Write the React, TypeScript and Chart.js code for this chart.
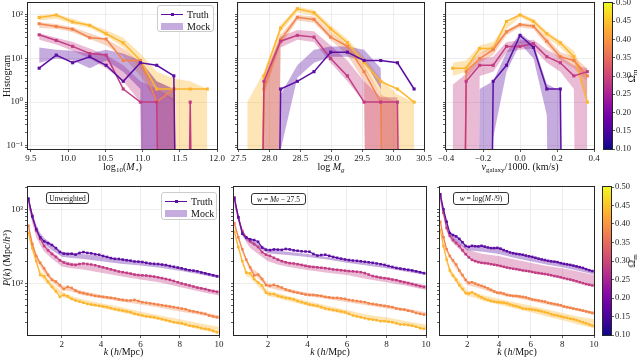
import React, { useEffect, useRef } from "react";
import { Chart, registerables } from "chart.js";
Chart.register(...registerables);

// ================= DATA =================
// Four cosmologies (plasma colour at Omega_m): A≈0.17 (purple), B≈0.29 (magenta), C≈0.39 (orange), D≈0.44 (yellow)

// --- Top-left: stellar-mass histogram ---
const mstarBins = [9.61, 9.84, 10.06, 10.29, 10.51, 10.74, 10.97, 11.19, 11.42, 11.64, 11.87];
const mstarTruthA = [6, 12, 8, 11, 7, 3, 8, 7, 4, 0, 0];
const mstarTruthB = [35, 26, 19, 13, 12, 2, 1, 1, 0, 1, 0];
const mstarTruthC = [63, 54, 47, 30, 28, 9, 9, 1, 2, 0, 0];
const mstarTruthD = [87, 100, 69, 58, 37, 23, 9, 2, 2, 2, 2];
const mstarMockHiA = [18, 16, 15, 13, 16, 13, 9, 3, 2, 0, 0];
const mstarMockLoA = [8, 10, 9, 6, 9, 5, 2, 0, 0, 0, 0];
const mstarMockHiB = [38, 30, 24, 17, 12, 7, 3, 2, 1.2, 0, 0];
const mstarMockLoB = [27, 21, 15, 10, 6, 3, 1, 0, 0, 0, 0];
const mstarMockHiC = [68, 62, 52, 38, 28, 17, 8, 3, 2, 0, 0];
const mstarMockLoC = [50, 48, 40, 28, 20, 11, 4, 1, 0, 0, 0];
const mstarMockHiD = [100, 105, 82, 62, 45, 30, 13, 5, 3.5, 3, 2];
const mstarMockLoD = [75, 82, 62, 50, 33, 18, 6, 2, 1, 0, 0];

// --- Top-middle: log M_g histogram ---
const mgBins = [27.64, 27.91, 28.18, 28.45, 28.72, 28.99, 29.26, 29.53, 29.8, 30.07, 30.34];
const mgTruthA = [0, 0, 2, 3, 5, 14, 14, 9, 9, 8, 2];
const mgTruthB = [0, 3, 25, 34, 31, 10, 4, 1, 1, 1, 0];
const mgTruthC = [0, 2, 27, 88, 79, 31, 19, 5, 1, 0, 0];
const mgTruthD = [0, 4, 50, 139, 113, 48, 23, 8, 3, 2, 1];
const mgMockHiA = [0, 0, 1.5, 7, 16, 19, 19, 16, 6, 0, 0];
const mgMockLoA = [0, 0, 0.08, 3.6, 8, 11, 11, 9, 2, 0, 0];
const mgMockHiB = [0, 4, 32, 45, 42, 20, 9, 3, 1.3, 1.3, 0];
const mgMockLoB = [0, 0, 18, 27, 24, 8, 3, 1, 0, 0, 0];
const mgMockHiC = [0, 3, 35, 100, 92, 40, 20, 7, 1.5, 1, 0];
const mgMockLoC = [0, 1.5, 20, 75, 66, 27, 12, 3, 0, 0, 0];
const mgMockHiD = [1, 5, 60, 155, 130, 58, 28, 11, 3.5, 1.5, 1];
const mgMockLoD = [0, 0, 40, 115, 95, 40, 18, 6, 1.5, 0, 0];

// --- Top-right: galaxy velocity histogram ---
const velBins = [-0.364, -0.291, -0.218, -0.145, -0.073, 0, 0.073, 0.145, 0.218, 0.291, 0.364];
const velTruthA = [0, 0, 0, 3, 7, 34, 18, 2, 2, 0, 0];
const velTruthB = [0, 3, 7, 7, 19, 19, 22, 11, 8, 4, 5];
const velTruthC = [0, 5, 10, 16, 41, 60, 55, 25, 11, 9, 4];
const velTruthD = [6, 6, 17, 17, 71, 100, 71, 37, 23, 11, 1];
const velMockHiA = [0, 0, 2, 3, 14, 38, 22, 2.6, 1.8, 0, 0];
const velMockLoA = [0, 0, 0, 0.15, 5, 22, 10, 0.5, 0, 0, 0];
const velMockHiB = [2.5, 4.5, 10, 11, 24, 26, 27, 16, 11, 7, 6];
const velMockLoB = [0, 0, 4, 5, 14, 16, 17, 8, 5, 2, 0];
const velMockHiC = [0, 7, 13, 20, 46, 66, 62, 30, 14, 11, 6];
const velMockLoC = [0, 3.5, 8, 12, 34, 52, 47, 20, 9, 6, 3];
const velMockHiD = [8, 9, 20, 24, 62, 110, 82, 42, 26, 15, 3];
const velMockLoD = [4, 5, 13, 16, 48, 88, 62, 30, 18, 9, 1.2];

// --- Bottom: power spectra ---
const kTruth = [0.3, 0.5, 0.7, 0.9, 1.1, 1.3, 1.5, 1.7, 1.9, 2.1, 2.3, 2.5, 2.7, 2.9, 3.1, 3.3, 3.5, 3.7, 3.9, 4.1, 4.3, 4.5, 4.7, 4.9, 5.1, 5.3, 5.5, 5.7, 5.9, 6.1, 6.3, 6.5, 6.7, 6.9, 7.1, 7.3, 7.5, 7.7, 7.9, 8.1, 8.3, 8.5, 8.7, 8.9, 9.1, 9.3, 9.5, 9.7, 9.9];
const kMock = [0.3, 0.5, 0.7, 0.9, 1.1, 1.5, 2, 2.5, 3, 4, 5, 6, 7, 8, 9, 10];

// Unweighted
const pkUnwTruthA = [1400, 800, 540, 420, 370, 350, 330, 300, 265, 252, 250, 252, 245, 258, 265, 258, 255, 248, 244, 235, 228, 220, 215, 214, 210, 206, 203, 198, 197, 195, 190, 186, 184, 183, 180, 177, 172, 168, 164, 160, 155, 151, 149, 146, 141, 137, 133, 129, 125];
const pkUnwTruthB = [1350, 820, 520, 400, 320, 280, 250, 228, 205, 192, 184, 180, 178, 183, 186, 183, 180, 176, 170, 165, 160, 155, 150, 145, 142, 139, 136, 132, 130, 129, 128, 126, 124, 121, 118, 115, 112, 108, 104, 100, 97, 94, 91, 88, 86, 84, 81, 79, 77];
const pkUnwTruthC = [600, 340, 235, 190, 160, 130, 112, 106, 95, 84, 90, 87, 80, 76, 74, 72, 70, 68, 67, 66, 65, 64, 63, 61, 60, 59, 59, 60, 58, 56, 55, 54, 53, 52, 51, 50, 49, 48, 47, 46, 45, 43, 42, 41, 40, 39, 37, 36, 35];
const pkUnwTruthD = [480, 300, 200, 130, 125, 105, 90, 78, 66, 70, 67, 62, 59, 57, 55, 53, 52, 51, 50, 49, 48, 46.5, 45, 44, 43, 42, 41, 39, 38, 37, 36, 35.5, 35, 34, 33, 32, 31, 30, 29.5, 29, 28, 27, 26.5, 26, 25, 24.5, 24, 23, 22];
const pkUnwMockHiA = [1500, 900, 620, 480, 410, 340, 270, 255, 250, 235, 212, 195, 180, 162, 145, 130];
const pkUnwMockLoA = [1100, 700, 500, 400, 340, 280, 230, 220, 215, 200, 185, 175, 163, 148, 133, 118];
const pkUnwMockHiB = [1450, 900, 560, 430, 340, 270, 205, 190, 185, 165, 145, 132, 120, 105, 90, 80];
const pkUnwMockLoB = [1100, 650, 420, 330, 270, 215, 170, 160, 155, 140, 125, 113, 103, 90, 78, 69];
const pkUnwMockHiC = [650, 380, 250, 200, 170, 120, 95, 88, 80, 70, 63, 58, 52, 47, 42, 37];
const pkUnwMockLoC = [520, 300, 210, 170, 140, 105, 82, 78, 70, 63, 57, 52, 47, 42, 38, 33];
const pkUnwMockHiD = [520, 320, 220, 150, 135, 100, 78, 68, 62, 54, 48, 42, 37, 33, 29, 26];
const pkUnwMockLoD = [420, 260, 180, 125, 110, 85, 66, 60, 54, 47, 41, 36, 32, 28, 24, 21];

// w = M_g - 27.5
const pkMgTruthA = [1400, 780, 470, 415, 395, 385, 365, 305, 285, 282, 288, 286, 284, 292, 288, 280, 276, 272, 270, 268, 250, 238, 242, 244, 236, 228, 222, 216, 211, 207, 204, 202, 199, 196, 193, 190, 186, 182, 178, 172, 167, 162, 159, 156, 153, 150, 146, 142, 138];
const pkMgTruthB = [1450, 780, 510, 420, 370, 340, 310, 265, 245, 236, 222, 210, 200, 193, 188, 186, 182, 178, 173, 169, 167, 165, 163, 161, 158, 155, 153, 151, 149, 147, 146, 144, 142, 138, 132, 126, 123, 120, 118, 116, 113, 111, 107, 104, 101, 98, 95, 92, 90];
const pkMgTruthC = [650, 420, 290, 210, 165, 128, 132, 115, 95, 93, 96, 92, 88, 83, 80, 77, 75, 73, 71, 70, 70, 69, 68, 66, 65, 64, 64, 63, 62, 60, 59, 58, 57, 56, 54, 53, 52, 51, 50, 49, 48, 46, 45, 44.5, 43, 42, 40, 39, 38];
const pkMgTruthD = [500, 310, 200, 140, 137, 115, 103, 94, 75, 72, 72, 68, 66, 64, 63, 61, 58, 56, 54, 52, 51, 50, 48, 46, 45, 44, 43, 42, 41, 39, 37, 36, 35, 34, 33, 32.5, 32, 31, 31, 30.5, 30, 29, 28, 28, 27.5, 27, 26, 25, 24.5];
const pkMgMockHiA = [1500, 850, 520, 430, 400, 350, 290, 275, 268, 250, 228, 205, 188, 172, 155, 140];
const pkMgMockLoA = [1150, 700, 440, 380, 350, 300, 255, 248, 242, 228, 210, 190, 175, 160, 144, 130];
const pkMgMockHiB = [1450, 850, 540, 430, 360, 300, 240, 215, 195, 178, 162, 150, 133, 120, 108, 95];
const pkMgMockLoB = [1100, 680, 450, 360, 300, 250, 200, 180, 168, 152, 140, 130, 115, 104, 93, 82];
const pkMgMockHiC = [700, 450, 300, 220, 170, 140, 100, 92, 85, 75, 68, 62, 56, 51, 46, 41];
const pkMgMockLoC = [560, 380, 260, 190, 145, 118, 88, 82, 76, 68, 62, 56, 51, 46, 42, 37];
const pkMgMockHiD = [530, 340, 215, 150, 140, 108, 80, 74, 68, 58, 50, 44, 38, 35, 31, 28];
const pkMgMockLoD = [440, 280, 180, 125, 120, 92, 68, 63, 58, 50, 43, 38, 33, 30, 27, 24];

// w = log(M*/9)
const pkMsTruthA = [1600, 1000, 680, 480, 450, 432, 400, 360, 320, 312, 322, 318, 316, 322, 314, 306, 300, 300, 302, 295, 282, 272, 262, 256, 251, 248, 244, 238, 233, 228, 222, 216, 211, 207, 202, 199, 197, 194, 188, 184, 181, 178, 174, 170, 166, 162, 156, 151, 147];
const pkMsTruthB = [1500, 900, 560, 440, 385, 352, 320, 280, 248, 225, 208, 200, 194, 190, 188, 186, 182, 179, 176, 172, 168, 164, 161, 158, 156, 153, 150, 148, 146, 143, 140, 138, 136, 134, 132, 129, 126, 124, 121, 118, 115, 113, 110, 107, 104, 101, 98, 96, 94];
const pkMsTruthC = [680, 420, 290, 235, 205, 180, 150, 130, 112, 102, 104, 100, 96, 93, 90, 86, 82, 78, 75, 75, 73, 70, 69, 68, 68, 67, 66, 65, 63, 61, 60, 59, 58, 57, 55, 54, 53, 52, 51, 49, 48, 47, 46, 45, 44, 43, 42, 41, 40];
const pkMsTruthD = [530, 320, 210, 150, 128, 112, 95, 84, 74, 73, 76, 72, 68, 65, 62, 60, 58, 57, 56, 55.5, 55, 54, 52, 50.5, 49.5, 48, 46, 45.5, 45, 44.5, 44, 43, 42, 41, 40, 38.5, 37.5, 37, 36, 35, 34.5, 33.5, 33, 32, 31, 30, 29, 28, 27];
const pkMsMockHiA = [1650, 1050, 700, 500, 460, 400, 320, 320, 312, 298, 252, 230, 205, 188, 168, 150];
const pkMsMockLoA = [1300, 850, 600, 430, 400, 340, 280, 275, 268, 250, 220, 200, 180, 165, 148, 132];
const pkMsMockHiB = [1500, 950, 600, 470, 420, 350, 290, 265, 250, 235, 210, 190, 172, 160, 145, 130];
const pkMsMockLoB = [1200, 780, 500, 400, 350, 290, 230, 200, 188, 172, 155, 143, 130, 118, 105, 93];
const pkMsMockHiC = [700, 440, 300, 240, 210, 155, 108, 100, 92, 78, 70, 63, 57, 51, 46, 42];
const pkMsMockLoC = [600, 380, 265, 215, 185, 135, 95, 90, 83, 70, 64, 58, 52, 47, 43, 38];
const pkMsMockHiD = [560, 340, 225, 165, 140, 108, 80, 75, 70, 62, 56, 50, 45, 40, 36, 33];
const pkMsMockLoD = [460, 290, 190, 135, 118, 88, 68, 64, 58, 52, 46, 41, 36, 32, 28, 25];

// --- Ticks ---
const mstarTicks = [9.5, 10, 10.5, 11, 11.5, 12];
const mstarTickLabels = ["9.5", "10.0", "10.5", "11.0", "11.5", "12.0"];
const mgTicks = [27.5, 28, 28.5, 29, 29.5, 30, 30.5];
const mgTickLabels = ["27.5", "28.0", "28.5", "29.0", "29.5", "30.0", "30.5"];
const velTicks = [-0.4, -0.2, 0, 0.2, 0.4];
const velTickLabels = ["\u22120.4", "\u22120.2", "0.0", "0.2", "0.4"];
const histYTicks = [0.1, 1, 10, 100];
const histYLabels = ["10\u207B\u00B9", "10\u2070", "10\u00B9", "10\u00B2"];
const kTicks = [2, 4, 6, 8, 10];
const kTickLabels = ["2", "4", "6", "8", "10"];
const pkYTicks = [100, 1000];
const pkYLabels = ["10\u00B2", "10\u00B3"];
const cbTicks = [0.1, 0.15, 0.2, 0.25, 0.3, 0.35, 0.4, 0.45, 0.5];
const cbTickLabels = ["0.10", "0.15", "0.20", "0.25", "0.30", "0.35", "0.40", "0.45", "0.50"];

// ================= STYLE =================
const SERIF = "'Liberation Serif', 'DejaVu Serif', 'Times New Roman', serif";
const TICK_FONT = { family: SERIF, size: 9 };
const GRID = "#e8e8e8";
const COL_A = "#5c0fa2";
const COL_B = "#c23c84";
const COL_C = "#f2844b";
const COL_D = "#fdb52e";
const PLASMA = ["#0d0887", "#41049d", "#6a00a8", "#8f0da4", "#b12a90", "#cc4778", "#e16462", "#f2844b", "#fca636", "#fcce25", "#f0f921"];
const FLOOR = 1e-30;

function alpha(hex: string, a: number) {
  const n = parseInt(hex.slice(1), 16);
  return `rgba(${(n >> 16) & 255},${(n >> 8) & 255},${n & 255},${a})`;
}
const pts = (xs: number[], ys: number[]) => xs.map((x, i) => ({ x, y: ys[i] > 0 ? ys[i] : FLOOR }));

function truthDs(xs: number[], ys: number[], color: string, r: number, lw: number) {
  return {
    data: pts(xs, ys), borderColor: color, backgroundColor: color, pointBackgroundColor: color,
    borderWidth: lw, pointRadius: r, pointHoverRadius: r, pointStyle: "rect", pointBorderWidth: 0,
    fill: false, tension: 0, order: 0,
  };
}
function bandDs(xs: number[], lo: number[], hi: number[], color: string, order: number) {
  return [
    { data: pts(xs, hi), borderColor: "rgba(0,0,0,0)", borderWidth: 0, pointRadius: 0, fill: "+1", backgroundColor: alpha(color, 0.35), tension: 0, order },
    { data: pts(xs, lo), borderColor: "rgba(0,0,0,0)", borderWidth: 0, pointRadius: 0, fill: false, backgroundColor: "rgba(0,0,0,0)", tension: 0, order },
  ];
}

function logTicks(min: number, max: number) {
  const out: any[] = [];
  for (let e = -3; e <= 4; e++) {
    for (let m = 1; m <= 9; m++) {
      const v = m * Math.pow(10, e);
      if (v >= min * 0.9999 && v <= max * 1.0001) out.push({ value: v, major: m === 1 });
    }
  }
  return out;
}
function majorLabel(v: number, majors: number[], labels: string[]) {
  for (let i = 0; i < majors.length; i++) if (Math.abs(v - majors[i]) / majors[i] < 1e-6) return labels[i];
  return "";
}

const framePlugin = {
  id: "frame",
  afterDatasetsDraw(chart: any) {
    const { ctx, chartArea: a } = chart;
    ctx.save();
    ctx.strokeStyle = "#262626";
    ctx.lineWidth = 1;
    ctx.strokeRect(Math.round(a.left) - 0.5, Math.round(a.top) - 0.5, Math.round(a.right - a.left) + 1, Math.round(a.bottom - a.top) + 1);
    ctx.restore();
  },
};
const colorbarPlugin = {
  id: "cbar",
  beforeDatasetsDraw(chart: any) {
    const { ctx, chartArea: a } = chart;
    const g = ctx.createLinearGradient(0, a.bottom, 0, a.top);
    PLASMA.forEach((c, i) => g.addColorStop(i / (PLASMA.length - 1), c));
    ctx.save();
    ctx.fillStyle = g;
    ctx.fillRect(a.left, a.top, a.right - a.left, a.bottom - a.top);
    ctx.restore();
  },
};

type Box = { x0: number; y0: number; x1: number; y1: number; pl: number; pt: number; pr: number; pb: number };

function panelConfig(p: any) {
  const box: Box = p.box;
  return {
    type: "line",
    data: { datasets: p.datasets },
    options: {
      responsive: false, animation: false, devicePixelRatio: 1, events: [],
      layout: { padding: { left: 0, top: box.pt, right: box.pr, bottom: 0 } },
      plugins: { legend: { display: false }, tooltip: { enabled: false } },
      scales: {
        x: {
          type: "linear", min: p.xMin, max: p.xMax, bounds: "data",
          afterBuildTicks: (s: any) => { s.ticks = p.xTicks.map((v: number) => ({ value: v })); },
          afterFit: (s: any) => { s.height = box.pb; s.paddingLeft = 0; s.paddingRight = 0; },
          ticks: { autoSkip: false, maxRotation: 0, minRotation: 0, padding: 1, font: TICK_FONT, color: "#222", callback: (_v: any, i: number) => p.xLabels[i] },
          grid: { color: GRID, lineWidth: 0.8, tickLength: 3, tickColor: "#333", tickWidth: 0.8 },
          border: { display: false },
        },
        y: {
          type: "logarithmic", min: p.yMin, max: p.yMax, bounds: "data",
          afterBuildTicks: (s: any) => { s.ticks = logTicks(p.yMin, p.yMax); },
          afterFit: (s: any) => { s.width = box.pl; s.paddingTop = 0; s.paddingBottom = 0; },
          ticks: { autoSkip: false, padding: 2, font: TICK_FONT, color: "#222", callback: (v: number) => (p.showY ? majorLabel(v, p.yMajors, p.yLabels) : "") },
          grid: {
            color: (c: any) => (c.tick && c.tick.major ? GRID : "rgba(0,0,0,0)"),
            lineWidth: 0.8, tickLength: 3, tickColor: "#333", tickWidth: 0.8,
          },
          border: { display: false },
        },
      },
    },
    plugins: [framePlugin],
  };
}

function colorbarConfig(box: Box) {
  return {
    type: "line",
    data: { datasets: [] },
    options: {
      responsive: false, animation: false, devicePixelRatio: 1, events: [],
      layout: { padding: { left: box.pl, top: box.pt, right: 0, bottom: box.pb } },
      plugins: { legend: { display: false }, tooltip: { enabled: false } },
      scales: {
        x: { type: "linear", display: false, min: 0, max: 1 },
        y: {
          type: "linear", position: "right", min: 0.1, max: 0.5, bounds: "data",
          afterBuildTicks: (s: any) => { s.ticks = cbTicks.map((v) => ({ value: v })); },
          afterFit: (s: any) => { s.width = box.pr; s.paddingTop = 0; s.paddingBottom = 0; },
          ticks: { autoSkip: false, padding: 1, font: { family: SERIF, size: 8.5 }, color: "#222", callback: (_v: any, i: number) => cbTickLabels[i] },
          grid: { drawOnChartArea: false, tickLength: 3, tickColor: "#333", tickWidth: 0.8 },
          border: { display: false },
        },
      },
    },
    plugins: [colorbarPlugin, framePlugin],
  };
}

function ChartBox({ box, build }: { box: Box; build: () => any }) {
  const ref = useRef<HTMLCanvasElement | null>(null);
  useEffect(() => {
    const chart = new Chart(ref.current as HTMLCanvasElement, build() as any);
    return () => chart.destroy();
  }, []);
  const w = box.x1 - box.x0 + box.pl + box.pr;
  const h = box.y1 - box.y0 + box.pt + box.pb;
  return (
    <div style={{ position: "absolute", left: box.x0 - box.pl, top: box.y0 - box.pt, width: w, height: h }}>
      <canvas ref={ref} width={w} height={h} style={{ display: "block", width: w, height: h }} />
    </div>
  );
}

function histDatasets(xs: number[], t: number[][], lo: number[][], hi: number[][]) {
  const cols = [COL_A, COL_B, COL_C, COL_D];
  const ds: any[] = [];
  for (let i = 0; i < 4; i++) ds.push(truthDs(xs, t[i], cols[i], 2.2, 1.5));
  for (let i = 0; i < 4; i++) ds.push(...bandDs(xs, lo[i], hi[i], cols[i], 10 + i));
  return ds;
}
function pkDatasets(t: number[][], lo: number[][], hi: number[][]) {
  const cols = [COL_A, COL_B, COL_C, COL_D];
  const ds: any[] = [];
  for (let i = 0; i < 4; i++) ds.push(truthDs(kTruth, t[i], cols[i], 1.8, 1.2));
  for (let i = 0; i < 4; i++) ds.push(...bandDs(kMock, lo[i], hi[i], cols[i], 10 + i));
  return ds;
}

const HIST_YMIN = 0.084;
const HIST_YMAX = 188;
const PK_YMIN = 20.2;
const PK_YMAX = 2000;

const boxP1: Box = { x0: 28, y0: 3, x1: 217, y1: 149, pl: 28, pt: 3, pr: 10, pb: 20 };
const boxP2: Box = { x0: 238, y0: 3, x1: 424, y1: 149, pl: 8, pt: 3, pr: 10, pb: 20 };
const boxP3: Box = { x0: 446, y0: 3, x1: 594, y1: 149, pl: 8, pt: 3, pr: 8, pb: 20 };
const boxCB1: Box = { x0: 604, y0: 3, x1: 612, y1: 149, pl: 2, pt: 3, pr: 27, pb: 6 };
const boxP4: Box = { x0: 28, y0: 187, x1: 219, y1: 335, pl: 28, pt: 4, pr: 8, pb: 22 };
const boxP5: Box = { x0: 234, y0: 187, x1: 426, y1: 335, pl: 8, pt: 4, pr: 8, pb: 22 };
const boxP6: Box = { x0: 440, y0: 187, x1: 594, y1: 335, pl: 8, pt: 4, pr: 8, pb: 22 };
const boxCB2: Box = { x0: 603, y0: 187, x1: 611, y1: 335, pl: 2, pt: 4, pr: 27, pb: 6 };

function Txt({ x, y, rot = 0, size = 10, children }: any) {
  return (
    <div style={{ position: "absolute", left: x, top: y, transform: `translate(-50%,-50%) rotate(${rot}deg)`, fontSize: size, whiteSpace: "nowrap", lineHeight: 1, color: "#111", fontFamily: SERIF }}>
      {children}
    </div>
  );
}
const Sub = ({ children }: any) => <sub style={{ fontSize: "0.7em", verticalAlign: "-0.3em", lineHeight: 0 }}>{children}</sub>;
const Sup = ({ children }: any) => <sup style={{ fontSize: "0.7em", verticalAlign: "0.45em", lineHeight: 0 }}>{children}</sup>;

function Legend({ x, y, w, h }: any) {
  return (
    <div style={{ position: "absolute", left: x, top: y, width: w, height: h, boxSizing: "border-box", border: "1px solid #cccccc", borderRadius: 3, background: "rgba(255,255,255,0.85)", fontFamily: SERIF }}>
      <div style={{ position: "absolute", left: 3, top: 7.5, width: 22, height: 1.5, background: COL_A }} />
      <div style={{ position: "absolute", left: 12.5, top: 6.8, width: 3, height: 3, background: COL_A }} />
      <div style={{ position: "absolute", left: 29, top: 3, fontSize: 10, lineHeight: "12px", color: "#111" }}>Truth</div>
      <div style={{ position: "absolute", left: 3, top: 17, width: 22, height: 7, background: alpha(COL_A, 0.35) }} />
      <div style={{ position: "absolute", left: 29, top: 15, fontSize: 10, lineHeight: "12px", color: "#111" }}>Mock</div>
    </div>
  );
}
function TagBox({ x, y, w, h, children }: any) {
  return (
    <div style={{ position: "absolute", left: x, top: y, width: w, height: h, boxSizing: "border-box", border: "1px solid #333", borderRadius: 3, background: "#fff", display: "flex", alignItems: "center", justifyContent: "center", fontSize: 7.5, fontFamily: SERIF, whiteSpace: "nowrap", color: "#111" }}>
      {children}
    </div>
  );
}

export default function App() {
  return (
    <div style={{ position: "absolute", left: 0, top: 0, width: 640, height: 359, background: "#fff", overflow: "hidden" }}>
      <ChartBox box={boxP1} build={() => panelConfig({
        box: boxP1, xMin: 9.46, xMax: 12.0, xTicks: mstarTicks, xLabels: mstarTickLabels,
        yMin: HIST_YMIN, yMax: HIST_YMAX, yMajors: histYTicks, yLabels: histYLabels, showY: true,
        datasets: histDatasets(mstarBins, [mstarTruthA, mstarTruthB, mstarTruthC, mstarTruthD], [mstarMockLoA, mstarMockLoB, mstarMockLoC, mstarMockLoD], [mstarMockHiA, mstarMockHiB, mstarMockHiC, mstarMockHiD]),
      })} />
      <ChartBox box={boxP2} build={() => panelConfig({
        box: boxP2, xMin: 27.49, xMax: 30.5, xTicks: mgTicks, xLabels: mgTickLabels,
        yMin: HIST_YMIN, yMax: HIST_YMAX, yMajors: histYTicks, yLabels: histYLabels, showY: false,
        datasets: histDatasets(mgBins, [mgTruthA, mgTruthB, mgTruthC, mgTruthD], [mgMockLoA, mgMockLoB, mgMockLoC, mgMockLoD], [mgMockHiA, mgMockHiB, mgMockHiC, mgMockHiD]),
      })} />
      <ChartBox box={boxP3} build={() => panelConfig({
        box: boxP3, xMin: -0.4, xMax: 0.4, xTicks: velTicks, xLabels: velTickLabels,
        yMin: HIST_YMIN, yMax: HIST_YMAX, yMajors: histYTicks, yLabels: histYLabels, showY: false,
        datasets: histDatasets(velBins, [velTruthA, velTruthB, velTruthC, velTruthD], [velMockLoA, velMockLoB, velMockLoC, velMockLoD], [velMockHiA, velMockHiB, velMockHiC, velMockHiD]),
      })} />
      <ChartBox box={boxCB1} build={() => colorbarConfig(boxCB1)} />

      <ChartBox box={boxP4} build={() => panelConfig({
        box: boxP4, xMin: 0.28, xMax: 10, xTicks: kTicks, xLabels: kTickLabels,
        yMin: PK_YMIN, yMax: PK_YMAX, yMajors: pkYTicks, yLabels: pkYLabels, showY: true,
        datasets: pkDatasets([pkUnwTruthA, pkUnwTruthB, pkUnwTruthC, pkUnwTruthD], [pkUnwMockLoA, pkUnwMockLoB, pkUnwMockLoC, pkUnwMockLoD], [pkUnwMockHiA, pkUnwMockHiB, pkUnwMockHiC, pkUnwMockHiD]),
      })} />
      <ChartBox box={boxP5} build={() => panelConfig({
        box: boxP5, xMin: 0.28, xMax: 10, xTicks: kTicks, xLabels: kTickLabels,
        yMin: PK_YMIN, yMax: PK_YMAX, yMajors: pkYTicks, yLabels: pkYLabels, showY: false,
        datasets: pkDatasets([pkMgTruthA, pkMgTruthB, pkMgTruthC, pkMgTruthD], [pkMgMockLoA, pkMgMockLoB, pkMgMockLoC, pkMgMockLoD], [pkMgMockHiA, pkMgMockHiB, pkMgMockHiC, pkMgMockHiD]),
      })} />
      <ChartBox box={boxP6} build={() => panelConfig({
        box: boxP6, xMin: 0.28, xMax: 10, xTicks: kTicks, xLabels: kTickLabels,
        yMin: PK_YMIN, yMax: PK_YMAX, yMajors: pkYTicks, yLabels: pkYLabels, showY: false,
        datasets: pkDatasets([pkMsTruthA, pkMsTruthB, pkMsTruthC, pkMsTruthD], [pkMsMockLoA, pkMsMockLoB, pkMsMockLoC, pkMsMockLoD], [pkMsMockHiA, pkMsMockHiB, pkMsMockHiC, pkMsMockHiD]),
      })} />
      <ChartBox box={boxCB2} build={() => colorbarConfig(boxCB2)} />

      {/* legends and tags */}
      <Legend x={157} y={5} w={57} h={27} />
      <Legend x={161} y={192} w={56} h={28} />
      <TagBox x={46} y={192} w={43} h={12}>Unweighted</TagBox>
      <TagBox x={251} y={193} w={55} h={12}><i>w</i>&nbsp;=&nbsp;<i>M</i><Sub><i>g</i></Sub>&nbsp;−&nbsp;27.5</TagBox>
      <TagBox x={453} y={192} w={56} h={13}><i>w</i>&nbsp;=&nbsp;log(<i>M</i><Sub>⋆</Sub>/9)</TagBox>

      {/* axis titles */}
      <Txt x={7} y={76} rot={-90}>Histogram</Txt>
      <Txt x={122.5} y={167}>log<Sub>10</Sub>(<i>M</i><Sub>⋆</Sub>)</Txt>
      <Txt x={331} y={167}>log <i>M</i><Sub><i>g</i></Sub></Txt>
      <Txt x={520} y={167}><i>v</i><Sub>galaxy</Sub>/1000. (km/s)</Txt>
      <Txt x={632} y={76} rot={-90}>Ω<Sub>m</Sub></Txt>

      <Txt x={7} y={258} rot={-90}><i>P</i>(<i>k</i>) (Mpc/<i>h</i><Sup>3</Sup>)</Txt>
      <Txt x={123.5} y={352}><i>k</i> (<i>h</i>/Mpc)</Txt>
      <Txt x={330} y={352}><i>k</i> (<i>h</i>/Mpc)</Txt>
      <Txt x={517} y={352}><i>k</i> (<i>h</i>/Mpc)</Txt>
      <Txt x={632} y={261} rot={-90}>Ω<Sub>m</Sub></Txt>
    </div>
  );
}
